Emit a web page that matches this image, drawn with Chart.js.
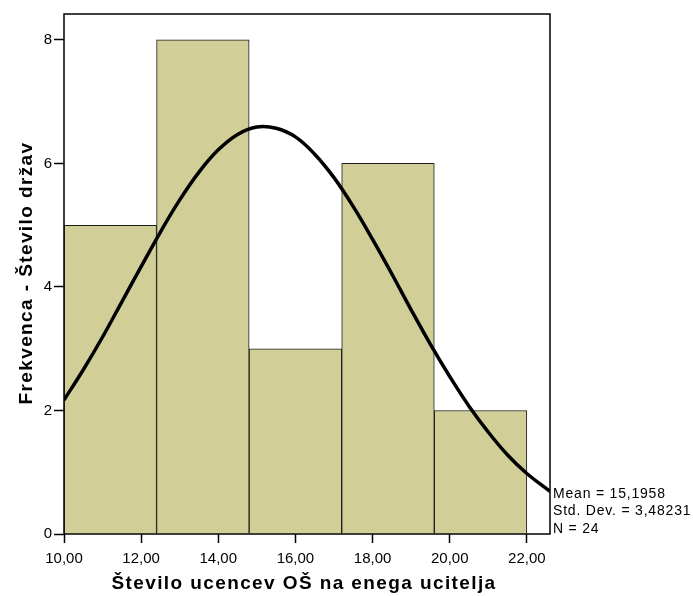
<!DOCTYPE html>
<html>
<head>
<meta charset="utf-8">
<script src="https://cdn.jsdelivr.net/npm/chart.js@4/dist/chart.umd.min.js"></script>
<style>
  html, body { margin: 0; padding: 0; background: #fff; }
  canvas { display: block; }
</style>
</head>
<body>
<canvas id="histChart" width="693" height="596"></canvas>
<script>
// histogram bins (width 2,4) and their counts
const binCenters = [11.2, 13.6, 16.0, 18.4, 20.8];
const binCounts = [5, 8, 3, 6, 2];

// fitted normal curve, read along the x axis
const curveX = [10, 10.5, 11, 11.5, 12, 12.5, 13, 13.5, 14, 14.5, 15, 15.5, 16, 16.5,
                17, 17.5, 18, 18.5, 19, 19.5, 20, 20.5, 21, 21.5, 22, 22.6];
const curveY = [2.17, 2.66, 3.19, 3.76, 4.33, 4.89, 5.41, 5.86, 6.22, 6.47, 6.59, 6.57, 6.43, 6.15,
                5.77, 5.30, 4.77, 4.21, 3.63, 3.07, 2.55, 2.07, 1.65, 1.28, 0.98, 0.69];

const xTicks = [10, 12, 14, 16, 18, 20, 22];
const yTicks = [0, 2, 4, 6, 8];
const xTitle = 'Število ucencev OŠ na enega ucitelja';
const yTitle = 'Frekvenca - Število držav';
const statsLines = ['Mean = 15,1958', 'Std. Dev. = 3,48231', 'N = 24'];

const FONT = 'Arial, "Liberation Sans", sans-serif';

// box around the plot area, the axis titles and the summary text
const framePlugin = {
    id: 'frame',
    afterDatasetsDraw(chart) {
        const { ctx, chartArea: a } = chart;
        ctx.save();
        ctx.strokeStyle = '#000';
        ctx.lineWidth = 1.5;
        ctx.strokeRect(a.left, a.top, a.right - a.left, a.bottom - a.top);
        ctx.restore();
    },
    afterDraw(chart) {
        const { ctx, chartArea: a } = chart;
        ctx.save();
        ctx.fillStyle = '#000';

        // axis titles, slightly spaced out
        ctx.font = 'bold 19px ' + FONT;
        ctx.letterSpacing = '1.4px';
        ctx.textAlign = 'center';
        ctx.textBaseline = 'alphabetic';
        ctx.fillText(xTitle, (a.left + a.right) / 2 - 3, 589);

        ctx.save();
        ctx.translate(31.5, (a.top + a.bottom) / 2 - 1);
        ctx.rotate(-Math.PI / 2);
        ctx.fillText(yTitle, 0, 0);
        ctx.restore();

        // summary statistics next to the plot
        ctx.font = '14px ' + FONT;
        ctx.letterSpacing = '0.8px';
        ctx.textAlign = 'left';
        statsLines.forEach((t, i) => ctx.fillText(t, a.right + 3, 497.5 + i * 17.7));
        ctx.restore();
    }
};

new Chart(document.getElementById('histChart'), {
    data: {
        datasets: [{
            type: 'line',
            data: curveX.map((x, i) => ({ x: x, y: curveY[i] })),
            borderColor: '#000',
            borderWidth: 3.5,
            pointRadius: 0,
            tension: 0.4,
            fill: false,
            order: 0
        }, {
            type: 'bar',
            data: binCenters.map((x, i) => ({ x: x, y: binCounts[i] })),
            backgroundColor: '#d2ce98',
            borderColor: '#1a1a1a',
            borderWidth: 1,
            barThickness: 'flex',   // bars span the full bin between neighbours
            barPercentage: 1,
            categoryPercentage: 1,
            order: 1
        }]
    },
    plugins: [framePlugin],
    options: {
        responsive: false,
        animation: false,
        layout: { padding: { top: 14, right: 143, left: 0, bottom: 0 } },
        plugins: {
            legend: { display: false },
            tooltip: { enabled: false }
        },
        scales: {
            x: {
                type: 'linear',
                offset: false,
                min: 10,
                max: 22.6,
                afterBuildTicks: axis => { axis.ticks = xTicks.map(v => ({ value: v })); },
                afterFit: axis => { axis.height = 62; },
                grid: { offset: false, drawOnChartArea: false, drawTicks: true, tickLength: 9, tickColor: '#000', tickWidth: 1.5 },
                border: { display: false },
                ticks: {
                    color: '#000',
                    padding: 7,
                    maxRotation: 0,
                    font: { family: FONT, size: 15 },
                    callback: v => v.toFixed(2).replace('.', ',')
                },
                title: { display: false }
            },
            y: {
                min: 0,
                max: 8.42,
                afterBuildTicks: axis => { axis.ticks = yTicks.map(v => ({ value: v })); },
                afterFit: axis => { axis.width = 64; },
                grid: { drawOnChartArea: false, drawTicks: true, tickLength: 10, tickColor: '#000', tickWidth: 1.5 },
                border: { display: false },
                ticks: {
                    color: '#000',
                    padding: 2,
                    font: { family: FONT, size: 15 }
                },
                title: { display: false }
            }
        }
    }
});
</script>
</body>
</html>
